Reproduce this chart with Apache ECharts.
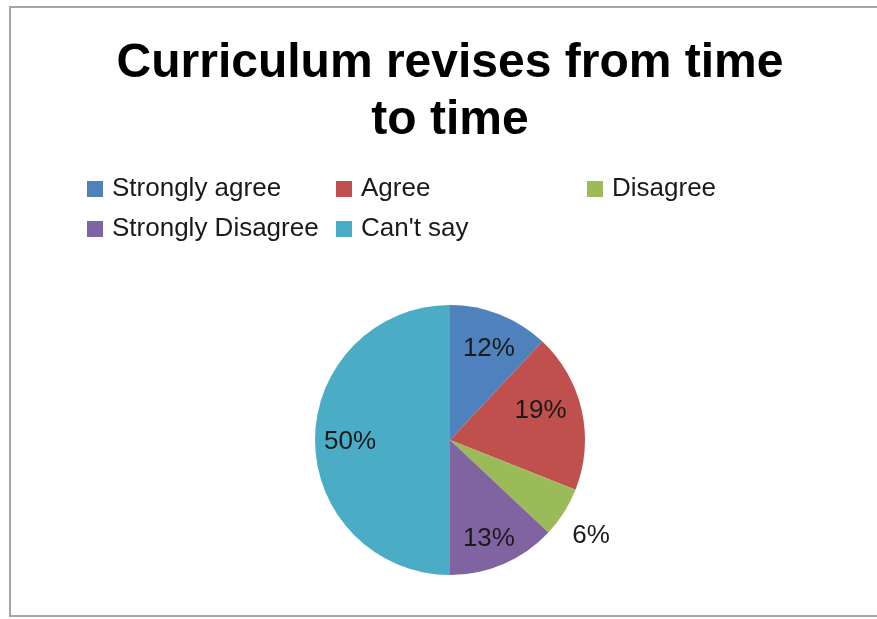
<!DOCTYPE html>
<html>
<head>
<meta charset="utf-8">
<script src="https://cdn.jsdelivr.net/npm/echarts@6/dist/echarts.min.js"></script>
<style>
html,body{margin:0;padding:0;background:#fff;}
#c{width:877px;height:619px;}
</style>
</head>
<body>
<div id="c"></div>
<script>
var categories = ['Strongly agree', 'Agree', 'Disagree', 'Strongly Disagree', "Can't say"];
var values = [12, 19, 6, 13, 50];
var colors = ['#4F81BD', '#C0504D', '#9BBB59', '#8064A2', '#4BACC6'];
var labelOffsets = [[1, 5], [-10, -7], [54, 41], [-2, 4], [3, 2]];

var FONT = '"Liberation Sans", Arial, Helvetica, sans-serif';

var pieData = categories.map(function (n, i) {
  return { name: n, value: values[i], itemStyle: { color: colors[i] } };
});
var labelData = categories.map(function (n, i) {
  return { name: n, value: values[i], label: { offset: labelOffsets[i] } };
});

var legendCommon = {
  orient: 'vertical',
  top: 171,
  itemWidth: 16,
  itemHeight: 16,
  itemGap: 14,
  icon: 'rect',
  selectedMode: false,
  textStyle: { fontFamily: FONT, fontSize: 26, lineHeight: 26, color: '#1a1a1a', padding: [0, 0, 0, 4] }
};

var chart = echarts.init(document.getElementById('c'));
chart.setOption({
  backgroundColor: '#fff',
  animation: false,
  graphic: [{
    type: 'rect',
    shape: { x: 10, y: 7, width: 900, height: 609 },
    style: { fill: 'none', stroke: '#a6a6a6', lineWidth: 2 },
    silent: true
  }],
  title: {
    text: 'Curriculum revises from time\nto time',
    left: 450,
    textAlign: 'center',
    top: 35,
    padding: 0,
    textStyle: { fontFamily: FONT, fontSize: 48, fontWeight: 'bold', lineHeight: 57, color: '#000' }
  },
  legend: [
    Object.assign({}, legendCommon, { left: 82, data: [categories[0], categories[3]] }),
    Object.assign({}, legendCommon, { left: 331, data: [categories[1], categories[4]] }),
    Object.assign({}, legendCommon, { left: 582, data: [categories[2]] })
  ],
  series: [{
    type: 'pie',
    center: [450, 440],
    radius: [0, 135],
    startAngle: 90,
    clockwise: true,
    label: { show: false },
    labelLine: { show: false },
    emphasis: { scale: false },
    data: pieData
  }, {
    type: 'pie',
    center: [450, 440],
    radius: [0, 200],
    startAngle: 90,
    clockwise: true,
    silent: true,
    itemStyle: { color: 'rgba(0,0,0,0)', borderWidth: 0 },
    label: {
      show: true,
      position: 'inside',
      formatter: '{c}%',
      fontFamily: FONT,
      fontSize: 26,
      color: '#1a1a1a'
    },
    labelLine: { show: false },
    emphasis: { disabled: true },
    data: labelData
  }]
});
</script>
</body>
</html>
